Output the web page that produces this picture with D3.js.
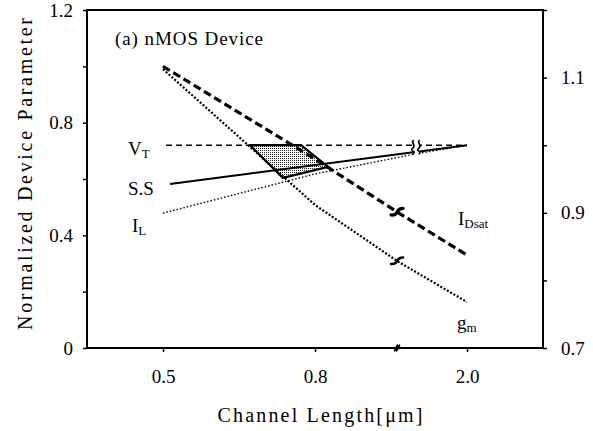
<!DOCTYPE html>
<html><head><meta charset="utf-8">
<script src="https://cdn.jsdelivr.net/npm/d3@7"></script>
</head>
<body style="margin:0"><svg id="c" width="593" height="431"></svg>
<script>
// Categories on the (broken) channel-length axis, placed at index 0,1,2
const xCats = ["0.5", "0.8", "2.0"];
const leftTicks = [0, 0.2, 0.4, 0.6, 0.8, 1.0, 1.2];
const leftLabels = [0, 0.4, 0.8, 1.2];
const rightTicks = [0.7, 0.8, 0.9, 1.0, 1.1, 1.2];
const rightLabels = [0.7, 0.9, 1.1];

// Series: x as category index (with break point), y as normalized value
const idsatX = [0, 1, 1.54, 2];
const idsatY = [1.0, 0.671, 0.483, 0.33];
const gmX = [0, 1, 1.54, 2];
const gmY = [0.99, 0.508, 0.309, 0.163];
const vtX = [0.02, 2];
const vtY = [0.72, 0.72];
const ssX = [0.046, 2];
const ssY = [0.582, 0.72];
const ilX = [0, 1, 1.67, 2];
const ilY = [0.479, 0.618, 0.69, 0.72];
// Shaded window region
const shadeX = [0.572, 0.908, 1.086, 0.789];
const shadeY = [0.72, 0.72, 0.643, 0.604];
// Break positions
const breakA = 1.54;  // IDsat, gm, x-axis
const breakB = 1.67;  // VT, S.S

const FONT = "Tinos";
const svg = d3.select("#c");
const L = 87, R = 543, T = 10, B = 348;
const x = d3.scaleLinear().domain([-0.5, 2.5]).range([L, R]);
const y = d3.scaleLinear().domain([0, 1.2]).range([B, T]);
const y2 = d3.scaleLinear().domain([0.7, 1.2]).range([B, T]);

const defs = svg.append("defs");
const pat = defs.append("pattern").attr("id", "dots").attr("patternUnits", "userSpaceOnUse")
  .attr("width", 2).attr("height", 2);
pat.append("rect").attr("width", 2).attr("height", 2).attr("fill", "#fff");
pat.append("rect").attr("width", 1).attr("height", 1).attr("fill", "#222");

// Axes
const fs = 19;
const axL = svg.append("g").attr("transform", `translate(${L},0)`)
  .call(d3.axisLeft(y).tickValues(leftTicks).tickSize(4).tickPadding(10)
    .tickFormat(d => leftLabels.some(v => Math.abs(v - d) < 1e-9) ? (d === 0 ? "0" : d3.format(".1f")(d)) : ""));
const axR = svg.append("g").attr("transform", `translate(${R},0)`)
  .call(d3.axisRight(y2).tickValues(rightTicks).tickSize(4).tickPadding(14)
    .tickFormat(d => rightLabels.some(v => Math.abs(v - d) < 1e-9) ? d3.format(".1f")(d) : ""));
const axB = svg.append("g").attr("transform", `translate(0,${B})`)
  .call(d3.axisBottom(x).tickValues([0, 1, 2]).tickSize(4).tickPadding(18)
    .tickFormat(i => xCats[i]));
[axL, axR, axB].forEach(g => {
  g.attr("font-family", FONT).attr("font-size", fs);
  g.select(".domain").remove();
  g.selectAll(".tick line").attr("stroke", "#000").attr("stroke-width", 1.5);
  g.selectAll("text").attr("fill", "#000").style("font-family", FONT);
});
// frame
svg.append("rect").attr("x", L).attr("y", T).attr("width", R - L).attr("height", B - T)
  .attr("fill", "none").attr("stroke", "#000").attr("stroke-width", 2);

// Shaded region
const poly = shadeX.map((d, i) => [x(d), y(shadeY[i])]);
svg.append("path").attr("d", "M" + poly.join("L") + "Z")
  .attr("fill", "url(#dots)").attr("stroke", "#000").attr("stroke-width", 2.2).attr("stroke-linejoin", "round");

const line = d3.line().x(d => x(d[0])).y(d => y(d[1]));
function draw(xs, ys, w, dash) {
  svg.append("path").attr("d", line(xs.map((d, i) => [d, ys[i]])))
    .attr("fill", "none").attr("stroke", "#000").attr("stroke-width", w)
    .attr("stroke-dasharray", dash);
}
draw(vtX, vtY, 1.5, "6,4");
draw(ssX, ssY, 2, null);
draw(ilX, ilY, 1.4, "1.5,2");
draw(gmX, gmY, 2.2, "2,1.8");
draw(idsatX, idsatY, 3.2, "8,4");

function interp(xs, ys, v) {
  return d3.scaleLinear().domain(xs).range(ys)(v);
}
// S-shaped break marks on IDsat and gm
[[idsatX, idsatY, 3.2], [gmX, gmY, 2.6]].forEach(([xs, ys, w]) => {
  const bx = x(breakA), by = y(interp(xs, ys, breakA));
  svg.append("path").attr("transform", `translate(${bx},${by})`)
    .attr("d", "M-6,3 C-2,3.5 -1,2 0,0 S3,-3.5 6,-3.5")
    .attr("fill", "none").attr("stroke", "#000").attr("stroke-width", w).attr("stroke-linecap", "round");
});
// double zigzag break on VT / S.S
{
  const bx = x(breakB), by = y(vtY[0]);
  const yb = y(interp(ssX, ssY, breakB));
  svg.append("rect").attr("x", bx - 2).attr("y", by - 5).attr("width", 5).attr("height", yb - by + 9).attr("fill", "#fff");
  const zz = "M0,-6 C-4,-4 3,-1 -1,2 S3,5 -1,8";
  [-3, 3].forEach(o => svg.append("path").attr("transform", `translate(${bx + o},${by + 1})`)
    .attr("d", zz).attr("fill", "none").attr("stroke", "#000").attr("stroke-width", 1.6));
}
// x-axis break
{
  const bx = x(breakA);
  svg.append("path").attr("transform", `translate(${bx},${B})`)
    .attr("d", "M-3,3 C-1,2 -1,-2 1,-3 M-1,3 C1,2 1,-2 3,-3")
    .attr("fill", "none").attr("stroke", "#000").attr("stroke-width", 2);
}

// Labels
function txt(xp, yp, size) {
  return svg.append("text").attr("x", xp).attr("y", yp)
    .style("font-family", FONT).style("font-size", size + "px").attr("fill", "#000");
}
txt(115, 45, 19).attr("textLength", 148).text("(a) nMOS Device");
function sub(xp, yp, main, s) {
  const t = txt(xp, yp, 19);
  t.append("tspan").text(main);
  t.append("tspan").attr("dy", 3).style("font-size", "13px").text(s);
}
sub(128, 155, "V", "T");
txt(128, 195, 19).text("S.S");
sub(132, 232, "I", "L");
sub(458, 225, "I", "Dsat");
sub(457, 329, "g", "m");

svg.append("text").attr("transform", "translate(32,174) rotate(-90)")
  .attr("text-anchor", "middle").style("font-family", FONT).style("font-size", "20px")
  .attr("fill", "#000").attr("textLength", 312)
  .text("Normalized Device Parameter");
txt(320, 422, 20).attr("text-anchor", "middle").attr("textLength", 205)
  .text("Channel Length[μm]");
</script></body></html>
